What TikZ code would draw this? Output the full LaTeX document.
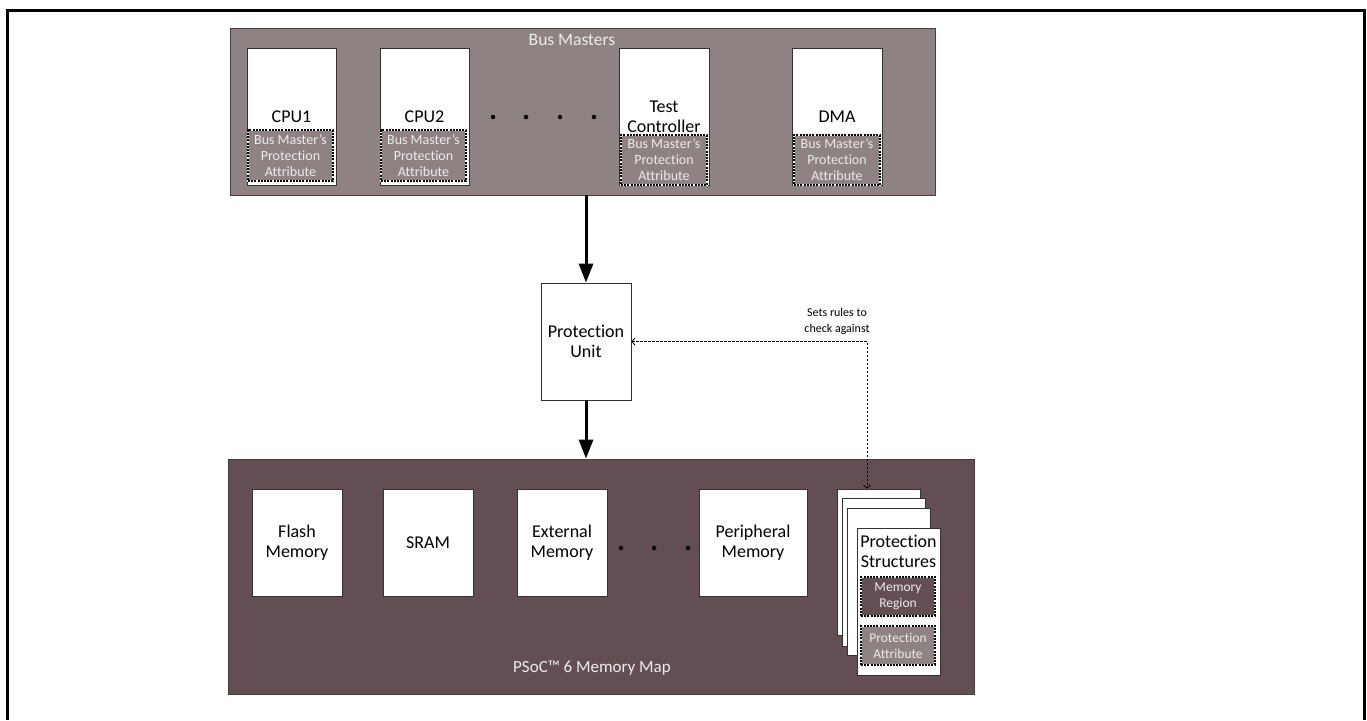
\documentclass[tikz,border=0pt]{standalone}
\usepackage{fontspec}
\setmainfont{Carlito}[Ligatures=NoCommon]
\usetikzlibrary{arrows.meta}
\definecolor{mastergray}{HTML}{8F8282}
\definecolor{mapbrown}{HTML}{634F53}
\definecolor{lighttext}{HTML}{ECECEC}
\begin{document}
\begin{tikzpicture}[x=1pt,y=-1pt,
  bigtxt/.style={font=\fontsize{18}{20.5}\selectfont, align=center, text=black, inner sep=0pt},
  smalltxt/.style={font=\fontsize{14}{16}\selectfont, align=center, inner sep=0pt},
  region/.style={draw=black!75, line width=0.8pt, inner sep=0pt},
  whitebox/.style={draw=black!80, fill=white, line width=0.8pt, inner sep=0pt},
  attrbox/.style={draw=white, fill=mastergray, line width=1.4pt, inner sep=0pt,
    postaction={draw=black, dash pattern=on 2pt off 1.2pt, line width=1.4pt}},
  regbox/.style={draw=white, fill=mapbrown, line width=1.4pt, inner sep=0pt,
    postaction={draw=black, dash pattern=on 2pt off 1.2pt, line width=1.4pt}},
  bigarrow/.style={line width=3pt, -{Triangle[length=19pt,width=14pt]}},
  rulearrow/.style={line width=0.8pt, dash pattern=on 2.5pt off 1.5pt,
    {Straight Barb[length=3pt,width=7pt]}-{Straight Barb[length=3pt,width=7pt]}},
  dot/.style={circle, fill=black, inner sep=0pt, minimum size=4.5pt}
]
\useasboundingbox (0,0) rectangle (1367,720);

% page frame, open at the bottom
\draw[line width=3pt] (7,720) -- (7,10) -- (1364,10) -- (1364,720);

% ---------- bus masters ----------
\node[region, fill=mastergray, minimum width=705pt, minimum height=167pt] (bm) at (582.5,111.5) {};
\node[smalltxt, font=\fontsize{17.5}{20}\selectfont, text=lighttext] (bmtitle) at (572,40) {Bus Masters};

\node[whitebox, minimum width=89pt, minimum height=137pt] (cpu1) at (291.5,116.5) {};
\node[attrbox, minimum width=85pt, minimum height=51pt] (cpu1a) at (290.5,155.5) {};
\node[smalltxt, text=lighttext] (cpu1at) at (cpu1a) {Bus Master's\\Protection\\Attribute};
\node[bigtxt] (cpu1t) at (291.5,117) {CPU1};

\node[whitebox, minimum width=89pt, minimum height=137pt] (cpu2) at (424.5,116.5) {};
\node[attrbox, minimum width=85pt, minimum height=51pt] (cpu2a) at (423.5,155.5) {};
\node[smalltxt, text=lighttext] (cpu2at) at (cpu2a) {Bus Master's\\Protection\\Attribute};
\node[bigtxt] (cpu2t) at (424.5,117) {CPU2};

\node[dot] (bd1) at (493,117) {};
\node[dot] (bd2) at (526,117) {};
\node[dot] (bd3) at (560,117) {};
\node[dot] (bd4) at (594,117) {};

\node[whitebox, minimum width=90pt, minimum height=137pt] (tc) at (664,116.5) {};
\node[attrbox, minimum width=86pt, minimum height=50pt] (tca) at (664,160) {};
\node[smalltxt, text=lighttext] (tcat) at (tca) {Bus Master's\\Protection\\Attribute};
\node[bigtxt] (tct) at (664,117) {Test\\Controller};

\node[whitebox, minimum width=90pt, minimum height=137pt] (dma) at (837,116.5) {};
\node[attrbox, minimum width=86pt, minimum height=50pt] (dmaa) at (837,160) {};
\node[smalltxt, text=lighttext] (dmaat) at (dmaa) {Bus Master's\\Protection\\Attribute};
\node[bigtxt] (dmat) at (837,117) {DMA};

% ---------- protection unit ----------
\node[whitebox, minimum width=90pt, minimum height=117pt] (pu) at (586,341.5) {};
\node[bigtxt] (put) at (pu) {Protection\\Unit};

% ---------- memory map ----------
\node[region, fill=mapbrown, minimum width=746pt, minimum height=235pt] (mm) at (601,576.5) {};
\node[smalltxt, font=\fontsize{17}{20}\selectfont, text=lighttext] (mmtitle) at (592,668) {PSoC™ 6 Memory Map};

\node[whitebox, minimum width=90pt, minimum height=107pt] (flash) at (297,542.5) {};
\node[bigtxt] (flasht) at (flash) {Flash\\Memory};
\node[whitebox, minimum width=90pt, minimum height=107pt] (sram) at (428,542.5) {};
\node[bigtxt] (sramt) at (sram) {SRAM};
\node[whitebox, minimum width=90pt, minimum height=107pt] (ext) at (562,542.5) {};
\node[bigtxt] (extt) at (ext) {External\\Memory};
\node[dot] (md1) at (621,548) {};
\node[dot] (md2) at (654,548) {};
\node[dot] (md3) at (688,548) {};
\node[whitebox, minimum width=108pt, minimum height=107pt] (per) at (753,542.5) {};
\node[bigtxt] (pert) at (per) {Peripheral\\Memory};

% stacked protection structures
\node[whitebox, minimum width=83pt, minimum height=146pt] (p1) at (878.5,562) {};
\node[whitebox, minimum width=83pt, minimum height=148pt] (p2) at (883.5,572) {};
\node[whitebox, minimum width=83pt, minimum height=147pt] (p3) at (888.5,581.5) {};
\node[whitebox, minimum width=83pt, minimum height=147pt] (p4) at (898.5,601.5) {};
\node[bigtxt] (p4t) at (898.5,551.5) {Protection\\Structures};
\node[regbox, minimum width=74pt, minimum height=39pt] (mr) at (898,596.5) {};
\node[smalltxt, font=\fontsize{13.5}{16}\selectfont, text=lighttext] (mrt) at (mr) {Memory\\Region};
\node[attrbox, minimum width=74pt, minimum height=39pt] (pa) at (898,645.5) {};
\node[smalltxt, font=\fontsize{13.5}{16}\selectfont, text=lighttext] (pat) at (pa) {Protection\\Attribute};

% ---------- connectors ----------
\draw[bigarrow] (pu.north |- bm.south) -- (pu.north);
\draw[bigarrow] (pu.south) -- (pu.south |- mm.north);

\coordinate (bend) at (867,341.5);
\draw[rulearrow] (pu.east) -- (bend) -- (bend |- p1.north);
\node[smalltxt, font=\fontsize{12}{16}\selectfont] (rulelabel) at (837,321.5) {Sets rules to\\check against};
\end{tikzpicture}
\end{document}
